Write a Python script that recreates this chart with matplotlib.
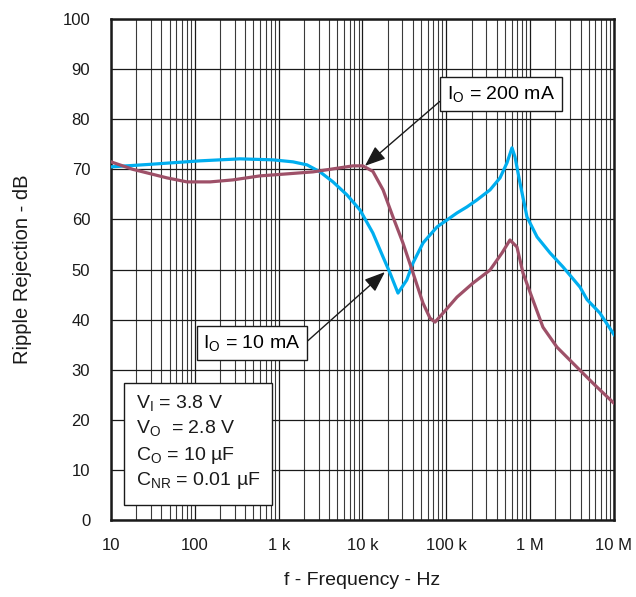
import matplotlib
matplotlib.use("Agg")
import matplotlib.pyplot as plt
from matplotlib.patches import Rectangle
from matplotlib.ticker import FixedLocator, FixedFormatter, LogLocator, NullFormatter

plt.rcParams['font.family'] = ['Liberation Sans', 'DejaVu Sans']

# IO = 10 mA (blue)
freq_10ma = [10, 29, 115, 346, 855, 1483, 2178, 3114, 4446, 6531, 9333, 13300, 17600,
             21300, 26500, 33700, 40000, 52700, 77400, 134000, 176000, 232000, 332000,
             437000, 529000, 607000, 659000, 756000, 917000, 1210000, 1730000, 2470000,
             3930000, 4770000, 6800000, 10000000]
rr_10ma = [70.5, 71.0, 71.7, 72.1, 71.9, 71.5, 70.9, 69.5, 67.5, 64.9, 61.9, 57.3, 52.5,
           49.3, 45.3, 47.9, 51.3, 55.3, 58.5, 61.3, 62.5, 63.9, 65.9,
           68.3, 71.3, 74.3, 72.5, 67.3, 60.5, 56.5, 53.3, 50.5,
           46.5, 44.0, 41.3, 37.0]

# IO = 200 mA (maroon)
freq_200ma = [10, 18.3, 46.6, 80.7, 152, 285, 599, 1256, 2570, 4446, 7700, 10100, 13300,
              17600, 23100, 30400, 40100, 52700, 63900, 73300, 91300, 134000, 208000,
              332000, 461000, 574000, 696000, 822000, 1080000, 1420000, 2090000, 3240000,
              5620000, 10000000]
rr_200ma = [71.5, 70.0, 68.3, 67.5, 67.5, 67.9, 68.7, 69.1, 69.5, 70.1, 70.7, 70.7, 69.6,
            65.9, 60.5, 55.3, 49.3, 43.3, 40.3, 39.5, 41.3, 44.5, 47.3,
            49.9, 53.3, 55.9, 54.5, 49.3, 43.9, 38.5, 34.5, 31.3,
            27.3, 23.3]

x_ticks = [10, 100, 1e3, 1e4, 1e5, 1e6, 1e7]
x_labels = ["10", "100", "1 k", "10 k", "100 k", "1 M", "10 M"]
y_ticks = list(range(0, 101, 10))

conditions = [r"$\mathregular{V_I}$ = 3.8 V",
              r"$\mathregular{V_O}$  = 2.8 V",
              r"$\mathregular{C_O}$ = 10 µF",
              r"$\mathregular{C_{NR}}$ = 0.01 µF"]

fig = plt.figure(figsize=(6.36, 5.97), dpi=100)
ax = fig.add_axes([0.1745, 0.129, 0.7909, 0.839])

ax.plot(freq_10ma, rr_10ma, color='#00AEEF', lw=2.3, zorder=3)
ax.plot(freq_200ma, rr_200ma, color='#9E5068', lw=2.3, zorder=3)

ax.set_xscale('log')
ax.set_xlim(10, 1e7)
ax.set_ylim(0, 100)
ax.xaxis.set_major_locator(FixedLocator(x_ticks))
ax.xaxis.set_major_formatter(FixedFormatter(x_labels))
ax.xaxis.set_minor_locator(LogLocator(base=10, subs=range(2, 10)))
ax.xaxis.set_minor_formatter(NullFormatter())
ax.set_yticks(y_ticks)

ax.grid(which='major', axis='both', color='#1a1a1a', lw=0.9)
ax.grid(which='minor', axis='x', color='#3a3a3a', lw=0.8)
ax.set_axisbelow(True)
ax.tick_params(which='both', length=0, labelsize=12, colors='#1a1a1a')
ax.tick_params(axis='y', pad=15)
ax.tick_params(axis='x', pad=13)
for s in ax.spines.values():
    s.set_linewidth(1.8)
    s.set_color('#1a1a1a')

ax.set_xlabel("f - Frequency - Hz", fontsize=14, labelpad=14, color='#1a1a1a')
ax.set_ylabel("Ripple Rejection - dB", fontsize=14.5, labelpad=22, color='#1a1a1a')

box = dict(boxstyle='square,pad=0.35', fc='white', ec='#1a1a1a', lw=1)
arrow = dict(arrowstyle='-|>,head_length=0.9,head_width=0.35', color='#1a1a1a', lw=1,
             shrinkA=0, shrinkB=0)
ax.annotate(r"$\mathregular{I_O}$ = 200 mA", xy=(10700, 70.7), xytext=(449000, 85.0),
            fontsize=14, ha='center', va='center', bbox=box,
            arrowprops=dict(arrow, relpos=(0, 0.45)), zorder=5)
ax.annotate(r"$\mathregular{I_O}$ = 10 mA", xy=(18500, 49.5), xytext=(481, 35.3),
            fontsize=14, ha='center', va='center', bbox=box,
            arrowprops=dict(arrow, relpos=(1, 0.3)), zorder=5)

ax.add_patch(Rectangle((0.026, 0.030), 0.294, 0.2435, transform=ax.transAxes,
                       fc='white', ec='#1a1a1a', lw=1, zorder=4))
baselines = [0.2236, 0.1727, 0.1198, 0.0699]
for line, yb in zip(conditions, baselines):
    ax.text(0.0497, yb, line, transform=ax.transAxes, fontsize=14, ha='left',
            va='baseline', color='#1a1a1a', zorder=5)

fig.savefig("out.png", dpi=100)
